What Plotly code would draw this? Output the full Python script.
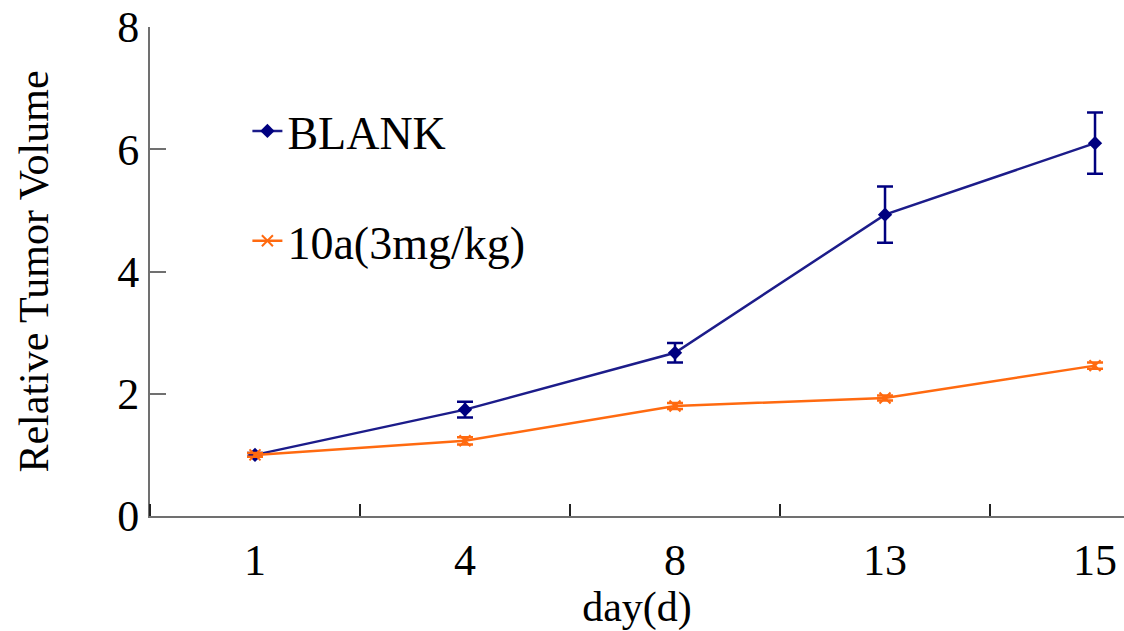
import plotly.graph_objects as go

days = ["1", "4", "8", "13", "15"]
blank_vals = [1.0, 1.74, 2.67, 4.93, 6.10]
blank_err = [0.03, 0.13, 0.16, 0.46, 0.50]
drug_vals = [1.0, 1.23, 1.80, 1.93, 2.46]
drug_err = [0.03, 0.06, 0.05, 0.04, 0.05]
y_ticks = [0, 2, 4, 6, 8]

xpos = list(range(len(days)))
FONT = "Liberation Serif, Times New Roman, serif"

fig = go.Figure()
fig.add_trace(go.Scatter(
    x=xpos, y=blank_vals, name="BLANK", mode="lines+markers",
    line=dict(color="#1c1c8a", width=2.5),
    marker=dict(symbol="diamond", size=11, color="#000080"),
    error_y=dict(type="data", array=blank_err, visible=True, color="#000080", thickness=2.5, width=8),
    legendgroup="a",
))
fig.add_trace(go.Scatter(
    x=xpos, y=drug_vals, name="10a(3mg/kg)", mode="lines+markers",
    line=dict(color="#ff6a10", width=2.5),
    marker=dict(symbol="x-thin", size=11, color="#ff6a10", line=dict(width=2, color="#ff6a10")),
    error_y=dict(type="data", array=drug_err, visible=True, color="#ff6a10", thickness=2.5, width=8),
    legendgroup="b",
))

axis_color = "#707070"
fig.update_layout(
    width=1124, height=631,
    margin=dict(l=150, r=0, t=27, b=115),
    paper_bgcolor="white", plot_bgcolor="white",
    font=dict(family=FONT, color="black", size=44),
    showlegend=True,
    legend=dict(x=0.1, y=0.862, xanchor="left", yanchor="top",
                font=dict(size=46, family=FONT), tracegroupgap=47,
                bgcolor="rgba(0,0,0,0)"),
    xaxis=dict(
        range=[-0.5, 4.138], tickmode="array", tickvals=xpos, ticktext=days,
        showline=True, linecolor=axis_color, linewidth=2, ticks="", showgrid=False, zeroline=False,
        ticklabelstandoff=4,
        tickfont=dict(size=44, family=FONT),
        minor=dict(ticks="inside", tick0=0.5, dtick=1, ticklen=12, tickcolor="#222", tickwidth=2, showgrid=False),
        title=dict(text="day(d)", font=dict(size=42, family=FONT), standoff=2),
    ),
    yaxis=dict(
        range=[0, 8], tickmode="array", tickvals=y_ticks, ticktext=[str(v) for v in y_ticks],
        showline=True, linecolor=axis_color, linewidth=2, ticks="inside", ticklen=16,
        tickcolor=axis_color, tickwidth=2, showgrid=False, zeroline=False,
        ticklabelstandoff=0,
        tickfont=dict(size=44, family=FONT),
        title=dict(text="Relative Tumor Volume", font=dict(size=42, family=FONT), standoff=56),
    ),
)

fig.write_html("out.html")
